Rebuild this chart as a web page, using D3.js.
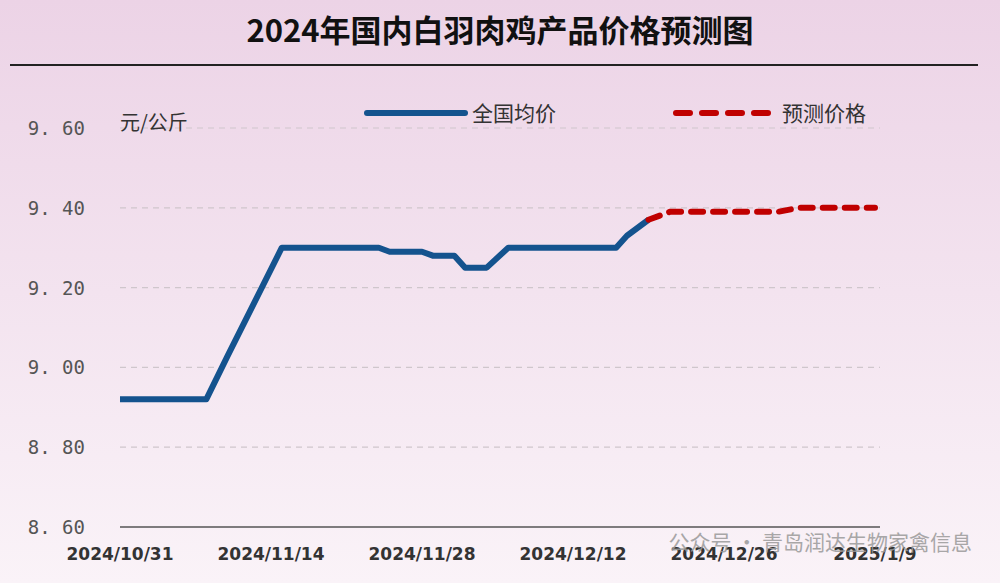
<!DOCTYPE html>
<html><head><meta charset="utf-8">
<script src="https://cdn.jsdelivr.net/npm/d3@7"></script>
<style>body{margin:0;overflow:hidden}</style>
</head><body><svg id="c" width="1000" height="583"></svg>
<script>
const actualDates=["2024-10-31","2024-11-08","2024-11-10","2024-11-15","2024-11-24","2024-11-25","2024-11-28","2024-11-29","2024-12-01","2024-12-02","2024-12-04","2024-12-06","2024-12-16","2024-12-17","2024-12-19"];
const actualValues=[8.92,8.92,9.03,9.30,9.30,9.29,9.29,9.28,9.28,9.25,9.25,9.30,9.30,9.33,9.37];
const forecastDates=["2024-12-19","2024-12-21","2024-12-31","2025-01-02","2025-01-09"];
const forecastValues=[9.37,9.39,9.39,9.40,9.40];
const yTicks=[8.60,8.80,9.00,9.20,9.40,9.60];
const xTickLabels=["2024/10/31","2024/11/14","2024/11/28","2024/12/12","2024/12/26","2025/1/9"];
const xTickDates=["2024-10-31","2024-11-14","2024-11-28","2024-12-12","2024-12-26","2025-01-09"];

const svg=d3.select("#c");
const p=d3.timeParse("%Y-%m-%d");
const defs=svg.append("defs");
const g=defs.append("linearGradient").attr("id","bg").attr("x1",0).attr("y1",0).attr("x2",0).attr("y2",1);
g.append("stop").attr("offset","0%").attr("stop-color","#ecd3e6");
g.append("stop").attr("offset","100%").attr("stop-color","#faf3f8");
svg.append("rect").attr("width",1000).attr("height",583).attr("fill","url(#bg)");

svg.append("text").attr("x",500).attr("y",42).attr("text-anchor","middle")
 .attr("font-family","Noto Sans CJK SC").attr("font-weight","bold").attr("font-size",31).attr("fill","#111")
 .text("2024年国内白羽肉鸡产品价格预测图");
svg.append("line").attr("x1",10).attr("x2",978).attr("y1",65).attr("y2",65).attr("stroke","#222").attr("stroke-width",2);

const x=d3.scaleTime().domain([p("2024-10-31"),p("2025-01-09")]).range([120,875]);
const y=d3.scaleLinear().domain([8.6,9.6]).range([527,128]);

yTicks.forEach(t=>{
 if(t>8.6) svg.append("line").attr("x1",120).attr("x2",880).attr("y1",y(t)).attr("y2",y(t))
   .attr("stroke","#cfc6cc").attr("stroke-dasharray","6,5").attr("stroke-width",1.2);
 svg.append("text").attr("x",85).attr("y",y(t)+7).attr("text-anchor","end")
   .attr("font-family","DejaVu Sans Mono").attr("font-size",19).attr("fill","#555")
   .text(t.toFixed(2).replace(".",". "));
});
svg.append("line").attr("x1",120).attr("x2",880).attr("y1",527).attr("y2",527).attr("stroke","#555").attr("stroke-width",1.5);
xTickDates.forEach((d,i)=>{
 svg.append("text").attr("x",x(p(d))).attr("y",560).attr("text-anchor","middle")
  .attr("font-family","DejaVu Sans").attr("font-weight","bold").attr("font-size",17).attr("fill","#333")
  .text(xTickLabels[i]);
});

svg.append("text").attr("x",120).attr("y",130).attr("font-family","Noto Sans CJK SC").attr("font-size",20).attr("fill","#333").text("元/公斤");

const line=d3.line().x(d=>x(d[0])).y(d=>y(d[1]));
svg.append("path").datum(actualDates.map((d,i)=>[p(d),actualValues[i]])).attr("d",line)
 .attr("fill","none").attr("stroke","#14538e").attr("stroke-width",6).attr("stroke-linejoin","round");
svg.append("path").datum(forecastDates.map((d,i)=>[p(d),forecastValues[i]])).attr("d",line)
 .attr("fill","none").attr("stroke","#c00000").attr("stroke-width",6).attr("stroke-dasharray","12,10").attr("stroke-linecap","round");

svg.append("line").attr("x1",367).attr("x2",465).attr("y1",113).attr("y2",113).attr("stroke","#14538e").attr("stroke-width",6).attr("stroke-linecap","round");
svg.append("text").attr("x",472).attr("y",121).attr("font-family","Noto Sans CJK SC").attr("font-size",21).attr("fill","#333").text("全国均价");
svg.append("line").attr("x1",676).attr("x2",770).attr("y1",113).attr("y2",113).attr("stroke","#c00000").attr("stroke-width",6).attr("stroke-dasharray","14,12").attr("stroke-linecap","round");
svg.append("text").attr("x",782).attr("y",121).attr("font-family","Noto Sans CJK SC").attr("font-size",21).attr("fill","#333").text("预测价格");

svg.append("text").attr("x",972).attr("y",550).attr("text-anchor","end").attr("font-family","Noto Sans CJK SC").attr("font-size",21).attr("fill","#9a9a9a").attr("opacity",0.85).text("公众号 · 青岛润达生物家禽信息");
</script></body></html>
